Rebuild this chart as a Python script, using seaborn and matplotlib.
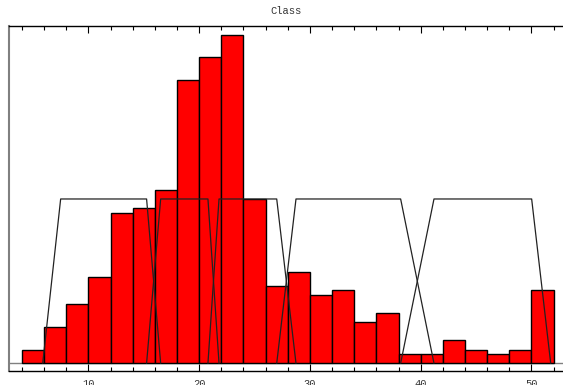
import numpy as np
import pandas as pd
import matplotlib
matplotlib.use("Agg")
import matplotlib.pyplot as plt
import seaborn as sns

# ---- data ----
bin_edges = [4, 6, 8, 10, 12, 14, 16, 18, 20, 22, 24, 26, 28, 30, 32, 34, 36,
             38, 40, 42, 44, 46, 48, 50, 52]
counts = [3, 8, 13, 19, 33, 34, 38, 62, 67, 72, 36, 17, 20, 15, 16, 9, 11,
          2, 2, 5, 3, 2, 3, 16]

# trapezoid membership functions (x breakpoints), drawn at height trap_top
trap_top = 36
trap_x = [
    [5.87, 7.49, 15.25, 16.52],
    [15.25, 16.52, 20.79, 21.79],
    [20.79, 21.79, 27.00, 28.74],
    [27.00, 28.74, 38.19, 41.20],
    [38.19, 41.20, 50.02, 51.74],
]
major_ticks = [10, 20, 30, 40, 50]
minor_ticks = [4, 6, 8, 12, 14, 16, 18, 22, 24, 26, 28, 32, 34, 36, 38,
               42, 44, 46, 48, 52]
title = "Class"

sns.set_theme(style="white")
plt.rcParams['font.family'] = ['Liberation Mono', 'DejaVu Sans']

fig = plt.figure(figsize=(5.63, 3.85), dpi=100)
ax = fig.add_axes([9 / 563, 1 - 371 / 385, 1 - 9 / 563, (371 - 26) / 385])

centers = [(a + b) / 2 for a, b in zip(bin_edges[:-1], bin_edges[1:])]
df = pd.DataFrame({"x": centers, "w": counts})
sns.histplot(data=df, x="x", weights="w", bins=bin_edges, color="#ff0000",
             edgecolor="black", linewidth=1.0, alpha=1.0, ax=ax, zorder=2)

for tx in trap_x:
    tdf = pd.DataFrame({"x": tx, "y": [0, trap_top, trap_top, 0]})
    sns.lineplot(data=tdf, x="x", y="y", sort=False, estimator=None,
                 color="#222222", linewidth=0.9, ax=ax, zorder=3)

ax.axhline(0, color="#808080", linewidth=1.0, zorder=1)

ax.set_xlim(2.826, 52.85)
ax.set_ylim(-1.69, 73.9)
ax.set_xlabel("")
ax.set_ylabel("")
ax.set_yticks([])
ax.set_xticks(major_ticks)
ax.set_xticks(minor_ticks, minor=True)
ax.set_xticklabels([str(t) for t in major_ticks])
ax.tick_params(axis="x", which="major", direction="in", length=5, width=0.8,
               top=True, bottom=True, labelsize=7.5, labelcolor="#333333",
               pad=6, color="black")
ax.tick_params(axis="x", which="minor", direction="in", length=3, width=0.8,
               top=True, bottom=True, color="black")

for side in ["top", "bottom"]:
    ax.spines[side].set_color("black")
    ax.spines[side].set_linewidth(1.0)
ax.spines["left"].set_color("#808080")
ax.spines["left"].set_linewidth(1.5)
ax.spines["right"].set_visible(False)

ax.set_title(title, fontsize=7.5, color="#333333", pad=9)

fig.savefig("out.png", dpi=100)
